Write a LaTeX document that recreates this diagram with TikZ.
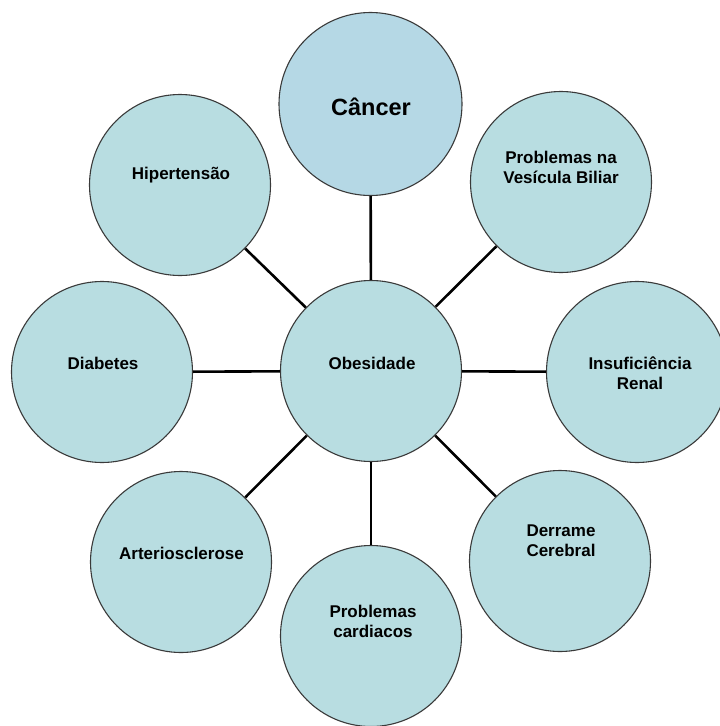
\documentclass[tikz,border=0pt]{standalone}
\usepackage{fontspec}
\setmainfont{Liberation Sans}
\definecolor{bubble}{HTML}{B8DDE1}
\definecolor{bubbletop}{HTML}{B5D8E5}
\definecolor{rim}{HTML}{3A3A3A}
\begin{document}
\begin{tikzpicture}[x=1pt,y=-1pt,
  bub/.style={circle,draw=rim,line width=1.1pt,fill=bubble,inner sep=0pt,minimum size=181pt},
  lbl/.style={align=center,font=\bfseries\fontsize{17}{20}\selectfont,inner sep=0pt},
  link/.style={line width=2.6pt,black}]
\useasboundingbox (0,0) rectangle (720,726);
\clip (0,0) rectangle (720,726);
\fill[white] (0,0) rectangle (720,726);
% circles
\node[bub] (ob) at (371,371) {};
\node[bub,fill=bubbletop,minimum size=183pt] (can) at (370.5,104) {};
\node[bub] (ves) at (561,182) {};
\node[bub] (ins) at (637,372) {};
\node[bub] (der) at (560,561) {};
\node[bub] (car) at (371,636) {};
\node[bub] (art) at (181,562) {};
\node[bub] (dia) at (102,372) {};
\node[bub] (hip) at (180,185) {};
% connectors
\draw[link] (ob) -- (can);
\draw[link] (ob) -- (ves);
\draw[link] (ob) -- (ins);
\draw[link] (ob) -- (der);
\draw[link] (ob) -- (car);
\draw[link] (ob) -- (art);
\draw[link] (ob) -- (dia);
\draw[link] (ob) -- (hip);
% texts
\node[lbl] (tob) at (372,363) {Obesidade};
\node[lbl,font=\bfseries\fontsize{23.5}{26}\selectfont] (tcan) at (371,107) {Câncer};
\node[lbl] (tves) at (561,167) {Problemas na\\Vesícula Biliar};
\node[lbl] (tins) at (640,373) {Insuficiência\\Renal};
\node[lbl] (tder) at (561,541) {Derrame\\Cerebral};
\node[lbl] (tcar) at (373,621) {Problemas\\cardiacos};
\node[lbl] (tart) at (181.5,553) {Arteriosclerose};
\node[lbl] (tdia) at (103,363) {Diabetes};
\node[lbl] (thip) at (181,175) {Hipertensão};
\end{tikzpicture}
\end{document}
